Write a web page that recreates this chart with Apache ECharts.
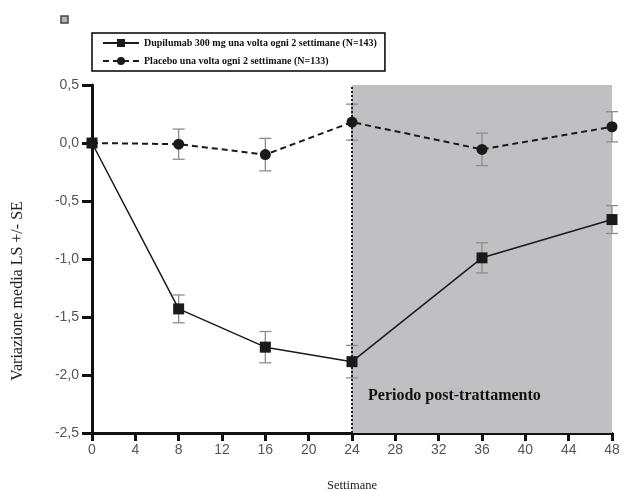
<!DOCTYPE html>
<html><head><meta charset="utf-8">
<script src="https://cdn.jsdelivr.net/npm/echarts@6/dist/echarts.min.js"></script>
<style>html,body{margin:0;padding:0;background:#fff}#c{width:625px;height:491px}</style>
</head><body><div id="c"></div>
<script>
const weeks = [0, 8, 16, 24, 36, 48];
const dupiName = 'Dupilumab 300 mg una volta ogni 2 settimane (N=143)';
const placName = 'Placebo una volta ogni 2 settimane (N=133)';
const dupiMean = [0, -1.43, -1.76, -1.885, -0.99, -0.66];
const dupiSE   = [0, 0.12, 0.135, 0.14, 0.13, 0.12];
const placMean = [0, -0.01, -0.10, 0.18, -0.055, 0.14];
const placSE   = [0, 0.13, 0.14, 0.155, 0.14, 0.13];
const shadeFrom = 24, shadeTo = 48;
const shadeLabel = 'Periodo post-trattamento';
const yTitle = 'Variazione media LS +/- SE';
const xTitle = 'Settimane';

const serif = '"Liberation Serif", "DejaVu Serif", serif';
const sans = '"Liberation Sans", Arial, sans-serif';

function errData(mean, se) {
  return weeks.map((w, i) => [w, mean[i] - se[i], mean[i] + se[i]]).filter((d, i) => se[i] > 0);
}
function errRender(params, api) {
  const x = api.value(0);
  const lo = api.coord([x, api.value(1)]);
  const hi = api.coord([x, api.value(2)]);
  const hw = 6;
  const st = { stroke: '#8c8c8c', lineWidth: 1.3 };
  return { type: 'group', children: [
    { type: 'line', shape: { x1: lo[0], y1: lo[1], x2: hi[0], y2: hi[1] }, style: st },
    { type: 'line', shape: { x1: lo[0]-hw, y1: lo[1], x2: lo[0]+hw, y2: lo[1] }, style: st },
    { type: 'line', shape: { x1: hi[0]-hw, y1: hi[1], x2: hi[0]+hw, y2: hi[1] }, style: st }
  ]};
}

const chart = echarts.init(document.getElementById('c'));
chart.setOption({
  animation: false,
  grid: { left: 92, right: 13, top: 85, bottom: 58, containLabel: false, outerBoundsMode: 'none' },
  legend: {
    data: [dupiName, placName],
    orient: 'vertical', left: 92, top: 33,
    borderColor: '#000', borderWidth: 1.5, padding: [5, 8, 5, 10],
    itemGap: 8, itemWidth: 36, itemHeight: 10,
    textStyle: { fontFamily: serif, fontWeight: 'bold', fontSize: 10, color: '#111' }
  },
  graphic: [
    { type: 'rect', shape: { x: 61, y: 16, width: 7, height: 7 }, style: { fill: '#b4b4b4', stroke: '#444', lineWidth: 1.5 } },
    { type: 'text', left: 368, top: 388, style: { text: shadeLabel, font: 'bold 16px ' + serif, fill: '#111' }, z: 10 },
    { type: 'text', x: 18, y: 291, rotation: Math.PI / 2,
      style: { text: yTitle, font: '16px ' + serif, fill: '#222', align: 'center', verticalAlign: 'middle' } }
  ],
  xAxis: {
    type: 'value', min: 0, max: 48, interval: 4,
    name: xTitle, nameLocation: 'middle', nameGap: 46,
    nameTextStyle: { fontFamily: serif, fontSize: 12.5, color: '#222' },
    axisLine: { onZero: false, lineStyle: { color: '#111', width: 3 } },
    axisTick: { length: 8, lineStyle: { color: '#111', width: 3 } },
    axisLabel: { fontFamily: sans, fontSize: 14, color: '#555', margin: 10 },
    splitLine: { show: false }
  },
  yAxis: {
    type: 'value', min: -2.5, max: 0.5, interval: 0.5,
    axisLine: { show: true, onZero: false, lineStyle: { color: '#111', width: 3 } },
    axisTick: { show: true, length: 10, lineStyle: { color: '#111', width: 3 } },
    axisLabel: { fontFamily: sans, fontSize: 14, color: '#555', margin: 13,
      formatter: v => v.toFixed(1).replace('.', ',') },
    splitLine: { show: false }
  },
  series: [
    {
      name: dupiName, type: 'line', data: weeks.map((w, i) => [w, dupiMean[i]]),
      symbol: 'rect', symbolSize: 11, itemStyle: { color: '#1a1a1a' },
      lineStyle: { color: '#1a1a1a', width: 1.5 }, z: 5,
      markArea: { silent: true, itemStyle: { color: '#c0c0c2' }, data: [[{ xAxis: shadeFrom }, { xAxis: shadeTo }]] },
      markLine: { silent: true, symbol: 'none', label: { show: false },
        lineStyle: { color: '#222', type: 'dotted', width: 2 }, data: [{ xAxis: shadeFrom }] }
    },
    {
      name: placName, type: 'line', data: weeks.map((w, i) => [w, placMean[i]]),
      symbol: 'circle', symbolSize: 11, itemStyle: { color: '#1a1a1a' },
      lineStyle: { color: '#1a1a1a', width: 2, type: [6, 4] }, z: 5
    },
    { type: 'custom', renderItem: errRender, data: errData(dupiMean, dupiSE), z: 4 },
    { type: 'custom', renderItem: errRender, data: errData(placMean, placSE), z: 4 }
  ]
});
</script></body></html>
